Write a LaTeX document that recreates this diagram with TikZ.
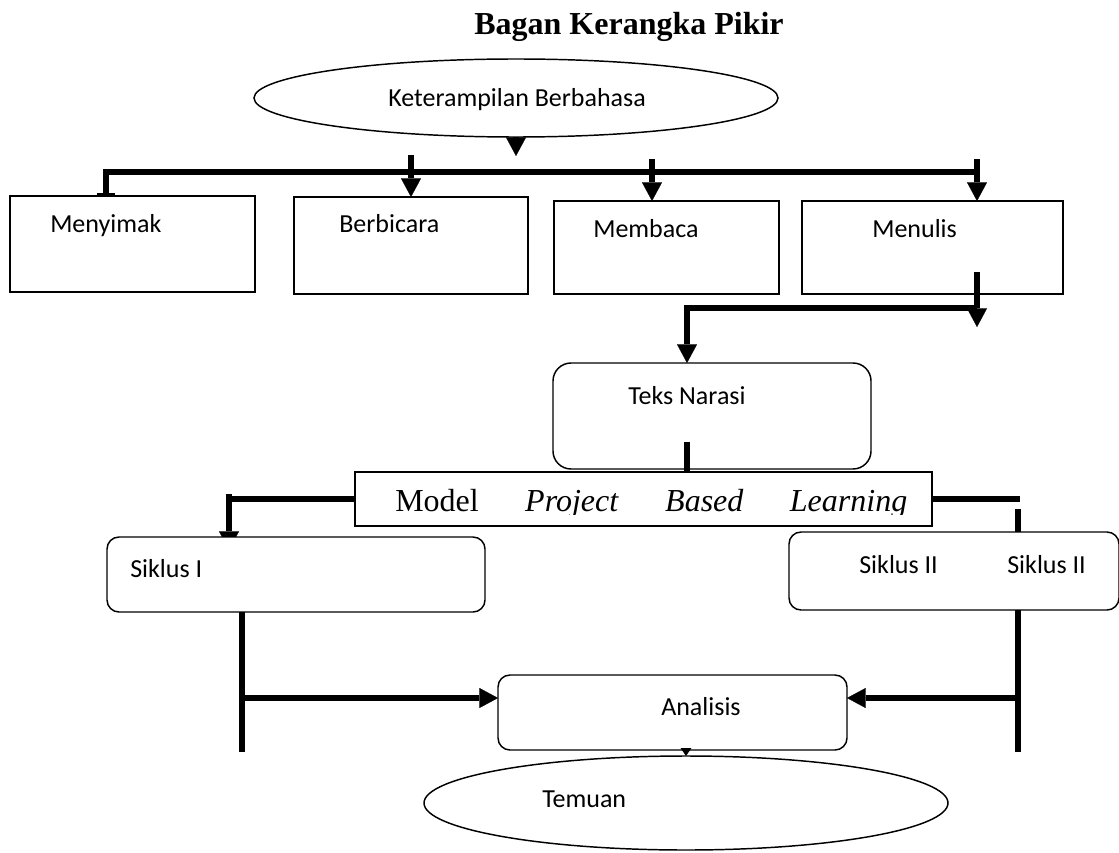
\documentclass[tikz,border=0pt]{standalone}
\usepackage{fontspec}
\setmainfont{Liberation Serif}
\newfontfamily\calibri{Carlito}
\usetikzlibrary{arrows.meta,backgrounds,shapes.geometric}

\begin{document}
\begin{tikzpicture}[x=0.75pt,y=-0.75pt,
  box/.style={draw,line width=1.1pt,fill=white,inner sep=0,outer sep=0},
  rbox/.style={box,rounded corners=9pt},
  oval/.style={draw,line width=1.1pt,ellipse,fill=white,inner sep=0,outer sep=0},
  lbl/.style={font=\calibri\fontsize{19.5}{23}\selectfont,inner sep=0,anchor=base west},
  conn/.style={line width=4.6pt},
  arr/.style={conn,-{Triangle[length=14pt,width=15pt,line width=0.1pt]}},
]
\useasboundingbox (0,0) rectangle (1119,852);
\begin{scope}[on background layer]
  \fill[white] (0,0) rectangle (1119,852);
\end{scope}

% title
\node[font=\bfseries\fontsize{24}{28}\selectfont,anchor=base,inner sep=0] (title) at (629,35) {Bagan Kerangka Pikir};

% top ellipse
\node[oval,minimum width=393pt,minimum height=58.5pt] (top) at (516,98) {};
\node[lbl] (topT) at (388,107) {Keterampilan Berbahasa};

% four boxes
\node[box,minimum width=183.75pt,minimum height=72pt] (menyimak) at (132.5,244) {};
\node[box,minimum width=175.5pt,minimum height=72.75pt] (berbicara) at (411,245.5) {};
\node[box,minimum width=168.75pt,minimum height=69.75pt] (membaca) at (666.5,247.5) {};
\node[box,minimum width=195.75pt,minimum height=69.75pt] (menulis) at (932.5,247.5) {};
\node[lbl] (menyimakT) at (50,232) {Menyimak};
\node[lbl] (berbicaraT) at (339,233) {Berbicara};
\node[lbl] (membacaT) at (593,237) {Membaca};
\node[lbl] (menulisT) at (872,237) {Menulis};

% teks narasi
\node[box,rounded corners=13.5pt,minimum width=238.5pt,minimum height=79.5pt] (teks) at (712,416) {};
\node[lbl] (teksT) at (628,404) {Teks Narasi};

% model bar
\node[box,minimum width=432.75pt,minimum height=40.5pt] (model) at (643.5,499) {};
\begin{scope}
  \clip (model.north west) rectangle ([yshift=9pt]model.south east);
  \node[anchor=base west,inner sep=0,font=\fontsize{24}{28}\selectfont] (modelT) at (395,511)
    {\hbox to 384pt{Model\hfill\textit{Project}\hfill\textit{Based}\hfill\textit{Learning}}};
\end{scope}

% siklus boxes
\node[rbox,minimum width=283.5pt,minimum height=56.25pt] (siklus1) at (296,574.5) {};
\node[lbl] (siklus1T) at (130,577) {Siklus I};
\node[rbox,minimum width=247.5pt,minimum height=58.5pt] (siklus2) at (954,571) {};
\node[lbl] (siklus2T) at (859,573) {Siklus II};
\node[lbl] (siklus2Tb) at (1007,573) {Siklus II};

% analisis and temuan
\node[rbox,minimum width=261.75pt,minimum height=56.25pt] (analisis) at (672.5,712.5) {};
\node[lbl] (analisisT) at (661,715) {Analisis};
\node[oval,minimum width=393pt,minimum height=70.5pt] (temuan) at (686,803) {};
\node[lbl] (temuanT) at (542,807) {Temuan};

% connectors ---------------------------------------------------------
\coordinate (dropL) at (106,194.5);
\coordinate (busL) at (106,172);
\coordinate (busR) at (977,172);
\coordinate (bbT) at (411,155);
\coordinate (mbT) at (652,159);
\coordinate (mnT) at (977,159);
\coordinate (mnIn) at (977,272);
\coordinate (mnEnd) at (977,327);
\coordinate (br) at (977,308);
\coordinate (tkIn) at (687,442);
\coordinate (s1Top) at (229,494);
\coordinate (s1T) at (229,550);
\coordinate (rEnd) at (1020,499);
\coordinate (rV) at (1018,509);
\coordinate (s1B) at (242,752);
\coordinate (s1M) at (242,698);
\coordinate (s2B) at (1018,752);
\coordinate (s2M) at (1018,698);

\draw[arr] (top.south) -- ++(0,19);
\draw[conn] (dropL) -- (busL) -- (busR);
\draw[line width=2.4pt] ([xshift=-7pt]dropL) -- ([xshift=7pt]dropL);
\draw[arr] (bbT) -- (berbicara.north);
\draw[arr] (mbT) -- (mbT |- membaca.north);
\draw[arr] (mnT) -- (mnT |- menulis.north);
\draw[arr] (mnIn) -- (mnEnd);
\draw[arr] (br) -| ([xshift=-18.75pt]teks.north);
\draw[conn] (tkIn) -- (tkIn |- model.north);
\begin{scope}[on background layer]
  \draw[conn] (model.west) -- (s1Top |- model.west);
  \draw[arr] (s1Top) -- (s1T);
\end{scope}
\draw[conn] (model.east) -- (rEnd);
\draw[conn] (rV) -- (rV |- siklus2.north);
\draw[conn] (s1B |- siklus1.south) -- (s1B);
\draw[arr] (s1M) -- (s1M -| analisis.west);
\draw[conn] (s2B |- siklus2.south) -- (s2B);
\draw[arr] (s2M) -- (s2M -| analisis.east);
\draw[line width=0.8pt,-{Triangle[length=6pt,width=8pt]}] (analisis.south -| temuan.north) -- (temuan.north);
\end{tikzpicture}
\end{document}
